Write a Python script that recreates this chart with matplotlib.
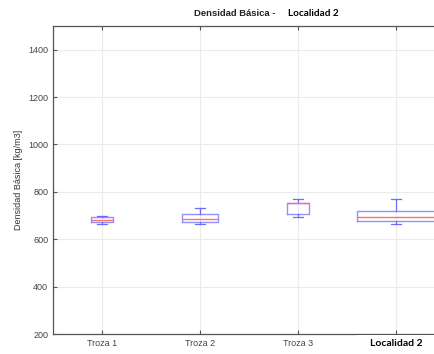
import matplotlib.pyplot as plt
import matplotlib.patches as mpatches

labels = ['Troza 1', 'Troza 2', 'Troza 3', 'Localidad 2']
whislo = [663, 666, 692, 663]
q1 = [673, 673, 708, 677]
med = [683, 687, 753, 695]
q3 = [694, 706, 753, 719]
whishi = [700, 732, 770, 770]
widths = [0.22, 0.36, 0.22, 0.8]

stats = []
for i in range(len(labels)):
    stats.append({'label': labels[i], 'whislo': whislo[i], 'q1': q1[i], 'med': med[i],
                  'q3': q3[i], 'whishi': whishi[i], 'fliers': []})

plt.rcParams['font.family'] = ['Liberation Sans', 'DejaVu Sans']

fig = plt.figure(figsize=(4.35, 3.54), dpi=100)
ax = fig.add_axes([53 / 435, 20 / 354, 392 / 435, 308 / 354])

ax.bxp(stats, positions=[1, 2, 3, 4], widths=widths, capwidths=0.1, showfliers=False,
       boxprops=dict(color='#6b6bff', linewidth=1.0, alpha=0.75),
       whiskerprops=dict(color='#6b6bff', linewidth=0.9, linestyle='-'),
       capprops=dict(color='#6b6bff', linewidth=0.9),
       medianprops=dict(color='#ff7070', linewidth=1.0))

ax.set_xlim(0.5, 4.5)
ax.set_ylim(200, 1500)
ax.set_yticks(range(200, 1401, 200))
ax.set_xticks([1, 2, 3, 4])
ax.set_xticklabels(['Troza 1', 'Troza 2', 'Troza 3', ''])
ax.grid(True, color='#ebebeb', linewidth=0.8)
ax.set_axisbelow(True)
ax.tick_params(direction='in', length=3, labelsize=6.5, labelcolor='#444444', color='#555555',
               top=True, right=False)
ax.spines['right'].set_visible(False)
for s in ax.spines.values():
    s.set_color('#555555')
    s.set_linewidth(0.9)
ax.set_ylabel('Densidad Básica [kg/m3]', fontsize=6.5, color='#333333', labelpad=4)

# white patch hides the spine under the last label
ax.add_patch(mpatches.Rectangle((3.6, -0.08), 1.0, 0.078, transform=ax.get_xaxis_transform(),
                                facecolor='white', edgecolor='none', clip_on=False, zorder=5))
ax.text(4.0, -0.03, 'Localidad 2', transform=ax.get_xaxis_transform(), ha='center', va='center',
        fontsize=7.5, fontweight='bold', family='Lato', color='black', clip_on=False, zorder=6)

fig.text(275 / 435, 1 - 14 / 354, 'Densidad Básica -', ha='right', va='center',
         fontsize=6.8, fontweight='bold', color='#222222')
fig.text(288 / 435, 1 - 14 / 354, 'Localidad 2', ha='left', va='center',
         fontsize=7.2, fontweight='bold', family='Lato')

fig.savefig('out.png', dpi=100)
